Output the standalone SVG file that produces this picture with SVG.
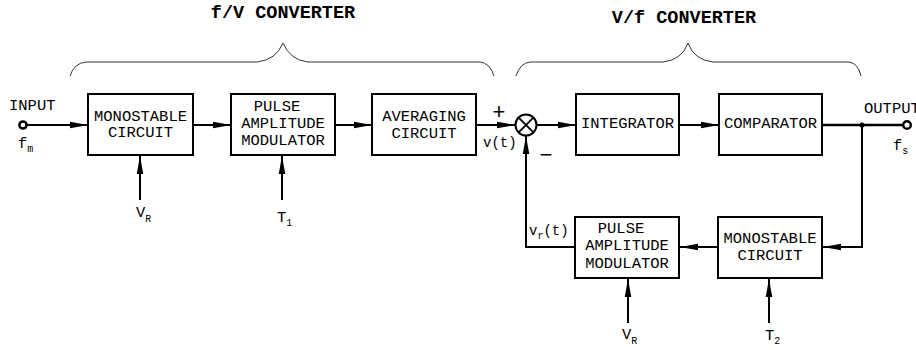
<svg xmlns="http://www.w3.org/2000/svg" width="916" height="350" viewBox="0 0 916 350">
<style>
.box{fill:#fff;stroke:#000;stroke-width:2}
.t{font-family:"Liberation Mono","Courier New",monospace;font-size:15.5px;fill:#000}
.c{text-anchor:middle}
.title{font-family:"Liberation Mono","Courier New",monospace;font-size:18.5px;font-weight:bold;fill:#000;text-anchor:middle}
.ln{fill:none;stroke:#000;stroke-width:2}
.br{fill:none;stroke:#333;stroke-width:1}
.sg{font-family:"Liberation Sans",Arial,sans-serif;font-size:22px;fill:#000;text-anchor:middle}
</style>
<defs>
<marker id="ah" markerUnits="userSpaceOnUse" markerWidth="22" markerHeight="10" viewBox="-20 -5 22 10" refX="0" refY="0" orient="auto">
<path d="M0,0 L-18,-3.3 L-18,3.3 Z" fill="#000"/>
</marker>
</defs>
<rect width="916" height="350" fill="#fff"/>

<g id="titles">
<text class="title" x="283" y="18">f/V CONVERTER</text>
<text class="title" x="684" y="23">V/f CONVERTER</text>
<path class="br" d="M70,76 Q74,63 86,62 L257,62 Q276,60 283,43 Q290,60 308,62 L480,62 Q490,63 494,76"/>
<path class="br" d="M516,76 Q520,63 530,62 L663,62 Q682,60 688,43 Q694,60 713,62 L849,62 Q858,63 861,76"/>
</g>

<g id="connectors">
<path class="ln" d="M27,125 L88,125" marker-end="url(#ah)"/>
<path class="ln" d="M193,125 L231,125" marker-end="url(#ah)"/>
<path class="ln" d="M335,125 L372,125" marker-end="url(#ah)"/>
<path class="ln" d="M476,125 L515,125" marker-end="url(#ah)"/>
<path class="ln" d="M537,125 L576,125" marker-end="url(#ah)"/>
<path class="ln" d="M679,125 L719,125" marker-end="url(#ah)"/>
<path class="ln" style="stroke-width:2.5" d="M822,125 L903,125"/>
<circle cx="862" cy="125" r="2.5" fill="#000"/>
<path class="ln" d="M862,125 L862,247 L823,247" marker-end="url(#ah)"/>
<path class="ln" d="M718,247 L680,247" marker-end="url(#ah)"/>
<path class="ln" d="M575,247 L526,247 L526,136" marker-end="url(#ah)"/>
<path class="ln" d="M140,200 L140,156" marker-end="url(#ah)"/>
<path class="ln" d="M282,200 L282,156" marker-end="url(#ah)"/>
<path class="ln" d="M628,323 L628,279" marker-end="url(#ah)"/>
<path class="ln" d="M769,323 L769,279" marker-end="url(#ah)"/>
</g>

<g id="input">
<circle cx="23" cy="125" r="3.6" fill="#fff" stroke="#000" stroke-width="2.5"/>
<text class="t" x="9" y="110">INPUT</text>
<text class="t" x="18" y="148">f<tspan font-size="10" dy="4">m</tspan></text>
</g>

<g id="output">
<circle cx="907" cy="125" r="3.8" fill="#fff" stroke="#000" stroke-width="2.5"/>
<text class="t" x="864" y="113">OUTPUT</text>
<text class="t" x="893" y="150">f<tspan font-size="10" dy="4">s</tspan></text>
</g>

<g id="mono1">
<rect class="box" x="88" y="94" width="105" height="61"/>
<text class="t c" x="140.5" y="120.5">MONOSTABLE</text>
<text class="t c" x="140.5" y="137">CIRCUIT</text>
</g>

<g id="pam1">
<rect class="box" x="231" y="94" width="104" height="61"/>
<text class="t c" x="277" y="111">PULSE</text>
<text class="t c" x="283" y="128">AMPLITUDE</text>
<text class="t c" x="283" y="145">MODULATOR</text>
</g>

<g id="avg">
<rect class="box" x="372" y="94" width="104" height="61"/>
<text class="t c" x="424" y="120.5">AVERAGING</text>
<text class="t c" x="424" y="137.5">CIRCUIT</text>
</g>

<g id="sum">
<circle cx="526" cy="125" r="10.5" fill="#fff" stroke="#000" stroke-width="2"/>
<path d="M518.6,117.6 L533.4,132.4 M533.4,117.6 L518.6,132.4" stroke="#000" stroke-width="1.8"/>
<text class="sg" x="499" y="119">+</text>
<text class="sg" x="546" y="162">−</text>
<text class="t" style="font-size:14px" x="483" y="147">v(t)</text>
</g>

<g id="integrator">
<rect class="box" x="576" y="94" width="103" height="61"/>
<text class="t c" x="627.5" y="128">INTEGRATOR</text>
</g>

<g id="comparator">
<rect class="box" x="719" y="94" width="103" height="61"/>
<text class="t c" x="770.5" y="128">COMPARATOR</text>
</g>

<g id="mono2">
<rect class="box" x="718" y="217" width="104" height="61"/>
<text class="t c" x="770" y="242.5">MONOSTABLE</text>
<text class="t c" x="770" y="259.5">CIRCUIT</text>
</g>

<g id="pam2">
<rect class="box" x="575" y="217" width="104" height="61"/>
<text class="t c" x="621" y="233">PULSE</text>
<text class="t c" x="627" y="250">AMPLITUDE</text>
<text class="t c" x="627" y="268">MODULATOR</text>
<text class="t" style="font-size:14px" x="529" y="235">v<tspan font-size="10" dy="4">r</tspan><tspan dy="-4">(t)</tspan></text>
</g>

<g id="labels">
<text class="t" x="136" y="217">V<tspan font-size="10" dy="5">R</tspan></text>
<text class="t" x="277" y="222">T<tspan font-size="10" dy="4">1</tspan></text>
<text class="t" x="622" y="339">V<tspan font-size="10" dy="5">R</tspan></text>
<text class="t" x="765" y="340">T<tspan font-size="10" dy="4">2</tspan></text>
</g>
</svg>
